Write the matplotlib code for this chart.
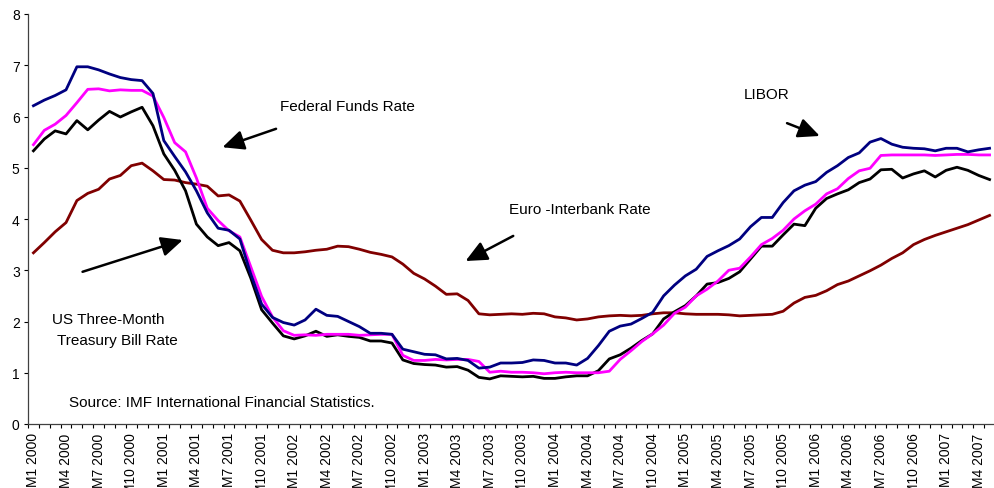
import numpy as np
import matplotlib
matplotlib.use("Agg")
import matplotlib.pyplot as plt

plt.rcParams['font.family'] = ['Liberation Sans', 'DejaVu Sans']

# monthly categories, M1 2000 .. M5 2007
months = [f"M{m} {y}" for y in range(2000, 2008) for m in range(1, 13)][:89]

libor = [
    6.21, 6.32, 6.41, 6.52, 6.97, 6.97, 6.91, 6.83, 6.76, 6.72, 6.70, 6.45,
    5.53, 5.22, 4.92, 4.55, 4.12, 3.82, 3.78, 3.61, 2.93, 2.34, 2.08, 1.98,
    1.93, 2.03, 2.24, 2.12, 2.10, 2.00, 1.90, 1.77, 1.77, 1.75, 1.46, 1.41,
    1.36, 1.35, 1.27, 1.28, 1.24, 1.09, 1.11, 1.19, 1.19, 1.20, 1.25, 1.24,
    1.19, 1.19, 1.15, 1.28, 1.53, 1.81, 1.91, 1.95, 2.06, 2.18, 2.50, 2.71,
    2.89, 3.02, 3.27, 3.38, 3.48, 3.61, 3.85, 4.03, 4.03, 4.32, 4.55, 4.66,
    4.73, 4.91, 5.04, 5.20, 5.29, 5.50, 5.57, 5.46, 5.40, 5.38, 5.37, 5.33,
    5.38, 5.38, 5.31, 5.35, 5.38,
]

fed_funds = [
    5.45, 5.73, 5.85, 6.02, 6.27, 6.53, 6.54, 6.50, 6.52, 6.51, 6.51, 6.40,
    5.98, 5.49, 5.31, 4.80, 4.21, 3.97, 3.77, 3.65, 3.07, 2.49, 2.09, 1.82,
    1.73, 1.74, 1.73, 1.75, 1.75, 1.75, 1.73, 1.74, 1.75, 1.75, 1.34, 1.24,
    1.24, 1.26, 1.25, 1.26, 1.26, 1.22, 1.01, 1.03, 1.01, 1.01, 1.00, 0.98,
    1.00, 1.01, 1.00, 1.00, 1.00, 1.03, 1.26, 1.43, 1.61, 1.76, 1.93, 2.16,
    2.28, 2.50, 2.63, 2.79, 3.00, 3.04, 3.26, 3.50, 3.62, 3.78, 4.00, 4.16,
    4.29, 4.49, 4.59, 4.79, 4.94, 4.99, 5.24, 5.25, 5.25, 5.25, 5.25, 5.24,
    5.25, 5.26, 5.26, 5.25, 5.25,
]

tbill = [
    5.33, 5.56, 5.72, 5.66, 5.92, 5.74, 5.93, 6.10, 5.99, 6.09, 6.18, 5.82,
    5.27, 4.95, 4.55, 3.90, 3.65, 3.48, 3.54, 3.38, 2.85, 2.23, 1.97, 1.72,
    1.66, 1.72, 1.81, 1.71, 1.74, 1.71, 1.69, 1.62, 1.62, 1.58, 1.25, 1.18,
    1.16, 1.15, 1.11, 1.12, 1.05, 0.91, 0.88, 0.94, 0.93, 0.92, 0.93, 0.89,
    0.89, 0.92, 0.94, 0.94, 1.04, 1.27, 1.35, 1.48, 1.63, 1.76, 2.05, 2.19,
    2.31, 2.50, 2.73, 2.76, 2.84, 2.97, 3.22, 3.47, 3.47, 3.69, 3.90, 3.87,
    4.21, 4.40, 4.49, 4.57, 4.71, 4.78, 4.96, 4.97, 4.80, 4.88, 4.94, 4.82,
    4.95, 5.01, 4.95, 4.85, 4.77,
]

euribor = [
    3.34, 3.54, 3.75, 3.93, 4.36, 4.50, 4.58, 4.78, 4.85, 5.04, 5.09, 4.94,
    4.77, 4.76, 4.71, 4.68, 4.64, 4.45, 4.47, 4.35, 3.98, 3.60, 3.39, 3.34,
    3.34, 3.36, 3.39, 3.41, 3.47, 3.46, 3.41, 3.35, 3.31, 3.26, 3.12, 2.94,
    2.83, 2.69, 2.53, 2.54, 2.41, 2.15, 2.13, 2.14, 2.15, 2.14, 2.16, 2.15,
    2.09, 2.07, 2.03, 2.05, 2.09, 2.11, 2.12, 2.11, 2.12, 2.15, 2.17, 2.17,
    2.15, 2.14, 2.14, 2.14, 2.13, 2.11, 2.12, 2.13, 2.14, 2.20, 2.36, 2.47,
    2.51, 2.60, 2.72, 2.79, 2.89, 2.99, 3.10, 3.23, 3.34, 3.50, 3.60, 3.68,
    3.75, 3.82, 3.89, 3.98, 4.07,
]

x = np.arange(len(months))

fig = plt.figure(figsize=(9.95, 4.89), dpi=100)
ax = fig.add_axes([28 / 995, 1 - 425 / 489, 1 - 28 / 995, 410 / 489])

ax.plot(x, euribor, color='#800000', lw=2)
ax.plot(x, tbill, color='black', lw=2)
ax.plot(x, fed_funds, color='#FF00FF', lw=2)
ax.plot(x, libor, color='#000080', lw=2)

ax.set_xlim(-0.5, 87.8)
ax.set_ylim(0, 8)
ax.set_yticks(range(0, 9))
ax.tick_params(axis='y', direction='out', length=3, width=0.8, labelsize=10, pad=3)

# labels every quarter, tick marks between every month
ax.set_xticks(x[::3])
ax.set_xticklabels(months[::3], rotation=90, fontsize=10, va='top')
ax.set_xticks(np.arange(-0.5, len(months), 1), minor=True)
ax.tick_params(axis='x', which='major', length=0, pad=6)
ax.tick_params(axis='x', which='minor', direction='out', length=3, width=0.8)

for side in ['top', 'right']:
    ax.spines[side].set_visible(False)
for side in ['left', 'bottom']:
    ax.spines[side].set_linewidth(0.9)
    ax.spines[side].set_color('#404040')

arrow = dict(arrowstyle='-|>,head_length=0.65,head_width=0.3', mutation_scale=20,
             color='black', lw=1.8, shrinkA=0, shrinkB=0)

ax.text(22.7, 6.20, 'Federal Funds Rate', fontsize=11, va='center', ha='left')
ax.annotate('', xy=(17.4, 5.40), xytext=(22.33, 5.76), arrowprops=arrow)

ax.text(43.8, 4.20, 'Euro -Interbank Rate', fontsize=11, va='center', ha='left')
ax.annotate('', xy=(39.77, 3.18), xytext=(44.16, 3.67), arrowprops=arrow)

ax.text(65.4, 6.44, 'LIBOR', fontsize=11, va='center', ha='left')
ax.annotate('', xy=(72.37, 5.62), xytext=(69.36, 5.87), arrowprops=arrow)

ax.text(1.69, 2.05, 'US Three-Month', fontsize=11, va='center', ha='left')
ax.text(2.15, 1.64, 'Treasury Bill Rate', fontsize=11, va='center', ha='left')
ax.annotate('', xy=(13.74, 3.59), xytext=(4.52, 2.97), arrowprops=arrow)

ax.text(3.24, 0.43, 'Source: IMF International Financial Statistics.', fontsize=11,
        va='center', ha='left')

fig.savefig('out.png', dpi=100)
